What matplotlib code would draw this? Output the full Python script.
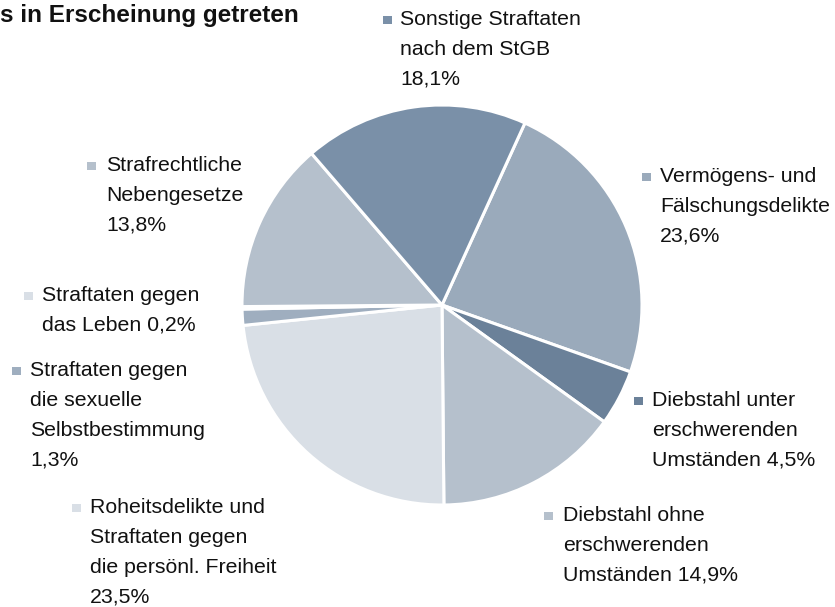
import matplotlib
matplotlib.use("Agg")
import matplotlib.pyplot as plt
from matplotlib.patches import Rectangle

W, H = 835, 607

categories = [
    "Vermögens- und\nFälschungsdelikte",
    "Diebstahl unter\nerschwerenden\nUmständen",
    "Diebstahl ohne\nerschwerenden\nUmständen",
    "Roheitsdelikte und\nStraftaten gegen\ndie persönl. Freiheit",
    "Straftaten gegen\ndie sexuelle\nSelbstbestimmung",
    "Straftaten gegen\ndas Leben",
    "Strafrechtliche\nNebengesetze",
    "Sonstige Straftaten\nnach dem StGB",
]
values = [23.6, 4.5, 14.9, 23.5, 1.3, 0.2, 13.8, 18.1]
pct_labels = ["23,6%", "4,5%", "14,9%", "23,5%", "1,3%", "0,2%", "13,8%", "18,1%"]
# whether the percentage is appended to the last text line
pct_inline = [False, True, True, False, False, True, False, False]
colors = ["#9AAABB", "#6B8199", "#B5C0CC", "#D9DFE6", "#9FAEBF", "#D9DFE6", "#B5C0CC", "#7A90A8"]

# label anchor: (marker_x, text_x, first baseline y) in pixels
label_pos = [
    (642, 660, 182),
    (634, 652, 406),
    (544, 563, 521),
    (72, 90, 513),
    (12, 30, 376),
    (24, 42, 301),
    (87, 106, 171),
    (383, 400, 25),
]

fig = plt.figure(figsize=(W / 100, H / 100), dpi=100)
fig.patch.set_facecolor("white")

cx, cy, r = 442, 305, 200
ax = fig.add_axes([(cx - r) / W, 1 - (cy + r) / H, 2 * r / W, 2 * r / H])
ax.pie(values, colors=colors, startangle=90 - 24.5, counterclock=False,
       radius=1, wedgeprops=dict(edgecolor="white", linewidth=2.2))
ax.set_xlim(-1, 1)
ax.set_ylim(-1, 1)
ax.set_aspect("equal")
ax.axis("off")

font = "Liberation Sans"
fs = 15.3
line_h = 29.8

def fx(x):
    return x / W

def fy(y):
    return 1 - y / H

for cat, pct, inline, col, (mx, tx, by) in zip(categories, pct_labels, pct_inline, colors, label_pos):
    lines = cat.split("\n")
    if inline:
        lines[-1] = lines[-1] + " " + pct
    else:
        lines.append(pct)
    for i, ln in enumerate(lines):
        fig.text(fx(tx), fy(by + i * line_h), ln, fontsize=fs, family=font,
                 color="#111111", ha="left", va="baseline")
    fig.patches.append(Rectangle((fx(mx), fy(by - 1)), 8.5 / W, 8.5 / H,
                                 transform=fig.transFigure, facecolor=col,
                                 edgecolor="none"))

fig.text(fx(0), fy(22), "s in Erscheinung getreten", fontsize=17.5, family=font,
         fontweight="bold", color="#111111", ha="left", va="baseline")

fig.savefig("out.png", dpi=100)
